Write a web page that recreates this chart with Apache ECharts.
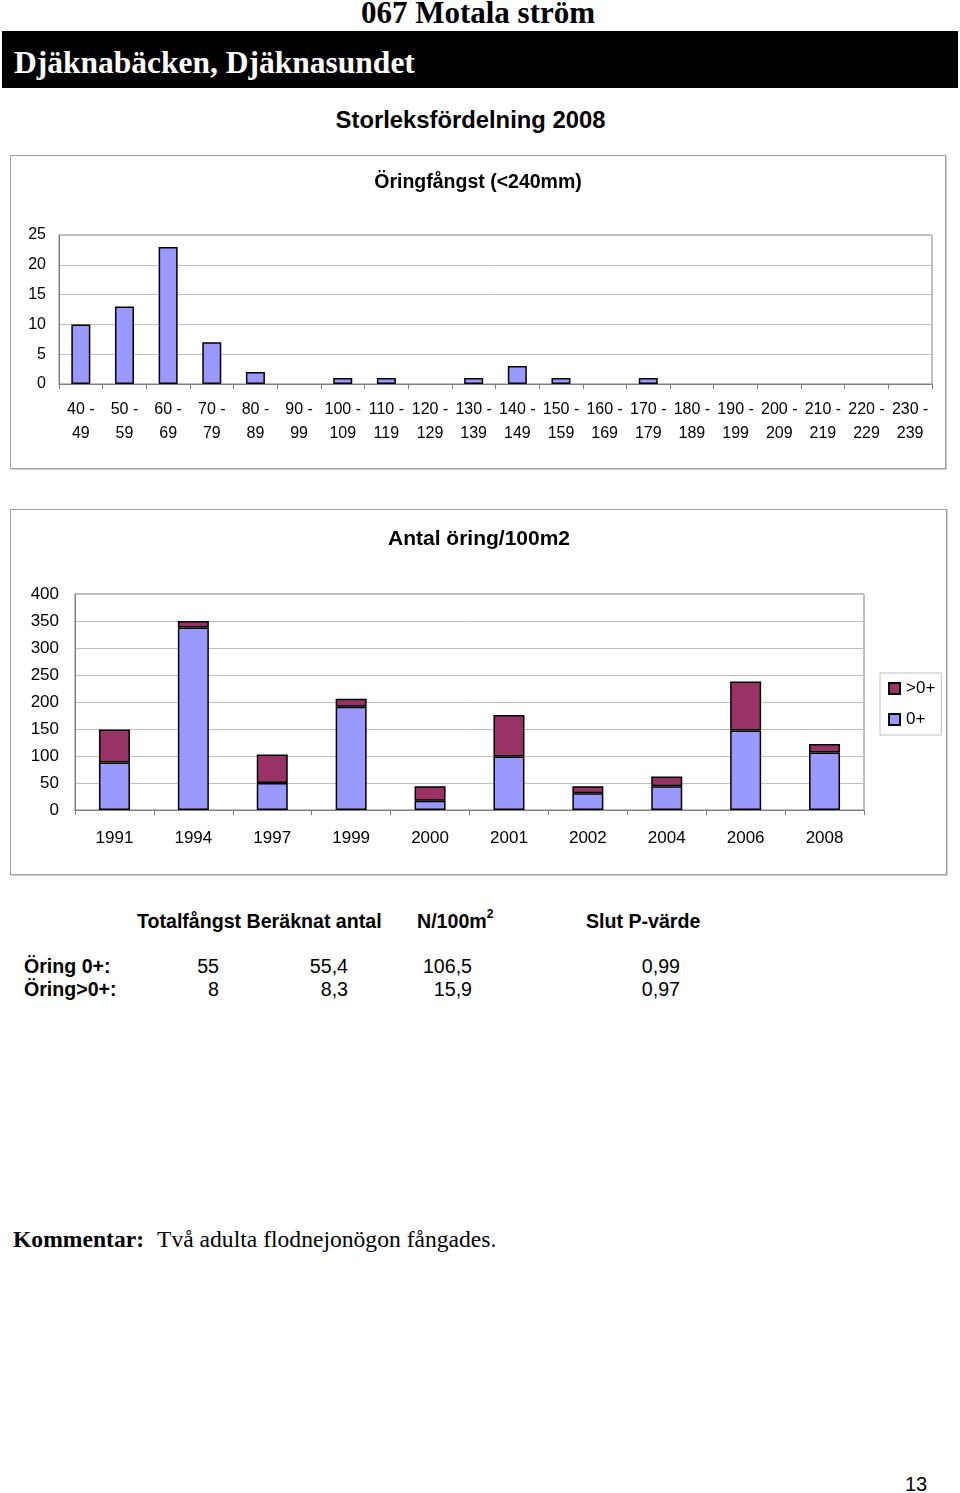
<!DOCTYPE html>
<html>
<head>
<meta charset="utf-8">
<script src="https://cdn.jsdelivr.net/npm/echarts@6/dist/echarts.min.js"></script>
<style>
  html, body { margin:0; padding:0; background:#fff; }
  #page { position:relative; width:960px; height:1493px; overflow:hidden; font-family:"Liberation Sans", Arial, sans-serif; color:#000; }
  .abs { position:absolute; white-space:nowrap; }
  .serif { font-family:"Liberation Serif", "Times New Roman", serif; }
  .frame { position:absolute; border:1px solid #a0a0a0; box-shadow:1px 1px 0 #d0d0d0; background:#fff; }
  .t { font-size:19.6px; line-height:22px; }
  .b { font-weight:bold; }
  .r { text-align:right; }
</style>
</head>
<body>
<div id="page">
  <div class="abs serif b" style="left:0;width:956px;text-align:center;top:-4px;font-size:31px;line-height:34px;">067 Motala ström</div>
  <div class="abs" style="left:2px;top:31px;width:956px;height:57px;background:#000;"></div>
  <div class="abs serif b" style="left:14px;top:46px;font-size:31.5px;line-height:34px;color:#fff;">Djäknabäcken, Djäknasundet</div>
  <div class="abs b" style="left:0;width:941px;text-align:center;top:106px;font-size:23.8px;line-height:28px;">Storleksfördelning 2008</div>

  <div class="frame" id="c1" style="left:10px;top:155px;width:934px;height:312px;"></div>
  <div class="frame" id="c2" style="left:10px;top:509px;width:935px;height:364px;"></div>

  <div class="abs t b" style="left:137px;top:910px;">Totalfångst Beräknat antal</div>
  <div class="abs t b" style="left:417px;top:910px;">N/100m<sup style="font-size:12px;line-height:0;position:relative;top:-2px;">2</sup></div>
  <div class="abs t b" style="left:586px;top:910px;">Slut P-värde</div>

  <div class="abs t b" style="left:24px;top:955px;">Öring 0+:</div>
  <div class="abs t b" style="left:24px;top:978px;">Öring&gt;0+:</div>
  <div id="tbl"></div>

  <div class="abs serif b" style="left:13px;top:1225px;font-size:23.6px;line-height:28px;">Kommentar:</div>
  <div class="abs serif" style="left:157px;top:1225px;font-size:23.6px;line-height:28px;">Två adulta flodnejonögon fångades.</div>
  <div class="abs" style="left:905px;top:1472px;font-size:20px;line-height:24px;">13</div>
</div>
<script>
// ---- Data ----
var sizeClasses = ['40 -\n49','50 -\n59','60 -\n69','70 -\n79','80 -\n89','90 -\n99','100 -\n109','110 -\n119','120 -\n129','130 -\n139','140 -\n149','150 -\n159','160 -\n169','170 -\n179','180 -\n189','190 -\n199','200 -\n209','210 -\n219','220 -\n229','230 -\n239'];
var sizeCounts = [10,13,23,7,2,0,1,1,0,1,3,1,0,1,0,0,0,0,0,0];

var years = ['1991','1994','1997','1999','2000','2001','2002','2004','2006','2008'];
var zeroPlus = [88,338,50,191,17,99,31,44,147,106.5];
var olderPlus = [61,12,53,15,27,77,13,18,91,15.9];

var tableRows = ['0+','>0+'];
var totalCatch = ['55','8'];
var estimated = ['55,4','8,3'];
var perArea = ['106,5','15,9'];
var pValue = ['0,99','0,97'];

// ---- Table ----
(function(){
  var html = '';
  var cols = [[totalCatch,219],[estimated,348],[perArea,472],[pValue,680]];
  for (var i=0;i<tableRows.length;i++){
    var top = 955 + i*23;
    cols.forEach(function(c){
      html += '<div class="abs t r" style="left:'+(c[1]-100)+'px;width:100px;top:'+top+'px;">'+c[0][i]+'</div>';
    });
  }
  document.getElementById('tbl').innerHTML = html;
})();

var FONT = '"Liberation Sans", Arial, sans-serif';

// ---- Chart 1 ----
var c1 = echarts.init(document.getElementById('c1'));
c1.setOption({
  animation:false,
  title:{ text:'Öringfångst (<240mm)', left:462, textAlign:'center', top:12, textStyle:{ fontFamily:FONT, fontSize:19.5, fontWeight:'bold', color:'#000' } },
  grid:{ left:48, top:79, width:873, height:149, show:true, borderColor:'#808080', borderWidth:1 },
  xAxis:{ type:'category', data:sizeClasses, boundaryGap:true,
    axisLine:{ lineStyle:{ color:'#808080' } },
    axisTick:{ show:true, length:5, lineStyle:{ color:'#808080' } },
    axisLabel:{ interval:0, margin:14, fontFamily:FONT, fontSize:16, color:'#000', lineHeight:24 } },
  yAxis:{ type:'value', min:0, max:25, interval:5,
    axisLine:{ show:true, lineStyle:{ color:'#808080' } },
    axisTick:{ show:false },
    splitLine:{ lineStyle:{ color:'#c0c0c0' } },
    axisLabel:{ margin:13, fontFamily:FONT, fontSize:16, color:'#000' } },
  series:[{ type:'bar', data:sizeCounts.map(function(v){ return v === 0 ? null : v; }), barWidth:19,
    itemStyle:{ color:'#9999ff', borderColor:'#000', borderWidth:1.5 } }]
});

// ---- Chart 2 ----
var c2 = echarts.init(document.getElementById('c2'));
c2.setOption({
  animation:false,
  title:{ text:'Antal öring/100m2', left:463, textAlign:'center', top:14, textStyle:{ fontFamily:FONT, fontSize:21, fontWeight:'bold', color:'#000' } },
  grid:{ left:64, top:84, width:789, height:216, show:true, borderColor:'#808080', borderWidth:1 },
  legend:{ orient:'vertical', left:869, top:163, data:['>0+','0+'], icon:'rect', itemWidth:11, itemHeight:11, itemGap:14,
    padding:[7,6,7,8], borderColor:'#c0c0c0', borderWidth:1,
    textStyle:{ fontFamily:FONT, fontSize:17, color:'#000', padding:[0,0,0,1] } },
  xAxis:{ type:'category', data:years, boundaryGap:true,
    axisLine:{ lineStyle:{ color:'#808080' } },
    axisTick:{ show:true, length:5, lineStyle:{ color:'#808080' } },
    axisLabel:{ interval:0, margin:20, fontFamily:FONT, fontSize:17, color:'#000' } },
  yAxis:{ type:'value', min:0, max:400, interval:50,
    axisLine:{ show:true, lineStyle:{ color:'#808080' } },
    axisTick:{ show:false },
    splitLine:{ lineStyle:{ color:'#c0c0c0' } },
    axisLabel:{ margin:16, fontFamily:FONT, fontSize:17, color:'#000' } },
  series:[
    { name:'0+', type:'bar', stack:'a', data:zeroPlus, barWidth:31,
      itemStyle:{ color:'#9999ff', borderColor:'#000', borderWidth:1.5 } },
    { name:'>0+', type:'bar', stack:'a', data:olderPlus, barWidth:31,
      itemStyle:{ color:'#993366', borderColor:'#000', borderWidth:1.5 } }
  ]
});
</script>
</body>
</html>
